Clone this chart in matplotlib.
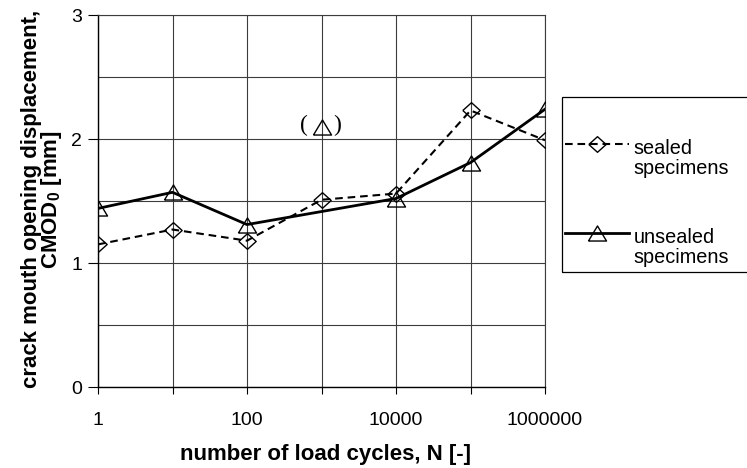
import numpy as np
import matplotlib
matplotlib.use('Agg')
import matplotlib.pyplot as plt
from matplotlib.legend_handler import HandlerLine2D
from matplotlib.patches import Rectangle
from matplotlib.ticker import FixedLocator, FixedFormatter, MultipleLocator, NullLocator

plt.rcParams['font.family'] = ['Liberation Sans', 'DejaVu Sans']
plt.rcParams['mathtext.fontset'] = 'custom'
plt.rcParams['mathtext.rm'] = 'Liberation Sans'
plt.rcParams['mathtext.bf'] = 'Liberation Sans:bold'
plt.rcParams['lines.scale_dashes'] = False

# ---- data ----
cycles = [1, 10, 100, 1000, 10000, 100000, 1000000]
sealed = [1.15, 1.27, 1.18, 1.51, 1.56, 2.23, 1.99]
unsealed_cycles = [1, 10, 100, 10000, 100000, 1000000]
unsealed = [1.44, 1.57, 1.31, 1.52, 1.81, 2.24]
outlier_cycles = [1000]
outlier_values = [2.10]

x_tick_values = [1, 10, 100, 1000, 10000, 100000, 1000000]
x_tick_labels = ['1', '', '100', '', '10000', '', '1000000']
y_tick_values = [0, 1, 2, 3]
y_tick_labels = ['0', '1', '2', '3']
legend_labels = ['sealed\nspecimens', 'unsealed\nspecimens']
x_label = 'number of load cycles, N [-]'
y_label = 'crack mouth opening displacement,\nCMOD$_\\mathbf{0}$ [mm]'

# ---- figure ----
W, H = 747, 468
fig = plt.figure(figsize=(W / 100, H / 100), dpi=100)
ax = fig.add_axes([98 / W, 1 - 387 / H, 447 / W, 372 / H])
ax.set_xscale('log')
ax.set_xlim(1, 1e6)
ax.set_ylim(0, 3)

diamond = [(-1, 0), (0, 0.9), (1, 0), (0, -0.9), (-1, 0)]
triangle = [(-1.2, -1), (1.2, -1), (0, 1), (-1.2, -1)]

l1, = ax.plot(cycles, sealed, color='black', lw=1.5, ls=(0, (5.5, 3.5)),
              marker=diamond, ms=12.5, mfc='none', mec='black', mew=1.0, zorder=3)
l2, = ax.plot(unsealed_cycles, unsealed, color='black', lw=2.0, ls='-',
              marker=triangle, ms=13, mfc='none', mec='black', mew=1.0, zorder=3)
ax.plot(outlier_cycles, outlier_values, ls='none', marker=triangle, ms=13,
        mfc='none', mec='black', mew=1.0, zorder=3)
for xv, yv in zip(outlier_cycles, outlier_values):
    ax.annotate('(', xy=(xv, yv), xytext=(-12.5, 0.5), textcoords='offset points',
                ha='center', va='center', fontsize=17, family='Liberation Serif')
    ax.annotate(')', xy=(xv, yv), xytext=(11.5, 0.5), textcoords='offset points',
                ha='center', va='center', fontsize=17, family='Liberation Serif')

# ---- axes styling ----
ax.xaxis.set_major_locator(FixedLocator(x_tick_values))
ax.xaxis.set_major_formatter(FixedFormatter(x_tick_labels))
ax.xaxis.set_minor_locator(NullLocator())
ax.yaxis.set_major_locator(FixedLocator(y_tick_values))
ax.yaxis.set_major_formatter(FixedFormatter(y_tick_labels))
ax.yaxis.set_minor_locator(MultipleLocator(0.5))

ax.set_axisbelow(True)
ax.grid(True, which='major', color='#3c3c3c', lw=0.8)
ax.grid(True, which='minor', axis='y', color='#3c3c3c', lw=0.8)
ax.tick_params(axis='x', which='major', direction='out', length=5, width=0.8,
               labelsize=14, pad=13)
ax.tick_params(axis='y', which='major', direction='out', length=7, width=0.8,
               labelsize=14, pad=4.5)
ax.tick_params(axis='y', which='minor', length=0)
for s in ax.spines.values():
    s.set_color('#3c3c3c')
    s.set_linewidth(0.8)
ax.spines['left'].set_color('black')
ax.spines['left'].set_linewidth(1.0)
ax.spines['bottom'].set_color('black')
ax.spines['bottom'].set_linewidth(1.0)

ax.set_xlabel(x_label, fontsize=16, fontweight='bold')
ax.xaxis.label.set_va('center')
ax.xaxis.set_label_coords(0.508, -0.182)
ax.set_ylabel(y_label, fontsize=16, fontweight='bold', linespacing=0.86)
ax.yaxis.label.set_va('center')
ax.yaxis.set_label_coords(-0.124, 0.505)

# ---- legend ----
def raise_handle(legline, orig):
    legline.update_from(orig)
    legline.set_ydata(np.asarray(legline.get_ydata()) + 10.5)

hm = {l1: HandlerLine2D(update_func=raise_handle),
      l2: HandlerLine2D(update_func=raise_handle)}
leg = ax.legend(handles=[l1, l2], labels=legend_labels, loc='upper left',
                bbox_to_anchor=(565 / W, 1 - 139 / H), bbox_transform=fig.transFigure,
                frameon=False, borderpad=0, borderaxespad=0, handlelength=3.2,
                handletextpad=0.25, labelspacing=2.5, fontsize=14.3, numpoints=1,
                handler_map=hm)
for t in leg.get_texts():
    t.set_linespacing(1.07)

fig.add_artist(Rectangle((562 / W, 1 - 272 / H), 0.4, (272 - 97) / H,
                         transform=fig.transFigure, fill=False, ec='black', lw=0.9))

fig.savefig('out.png', dpi=100)
